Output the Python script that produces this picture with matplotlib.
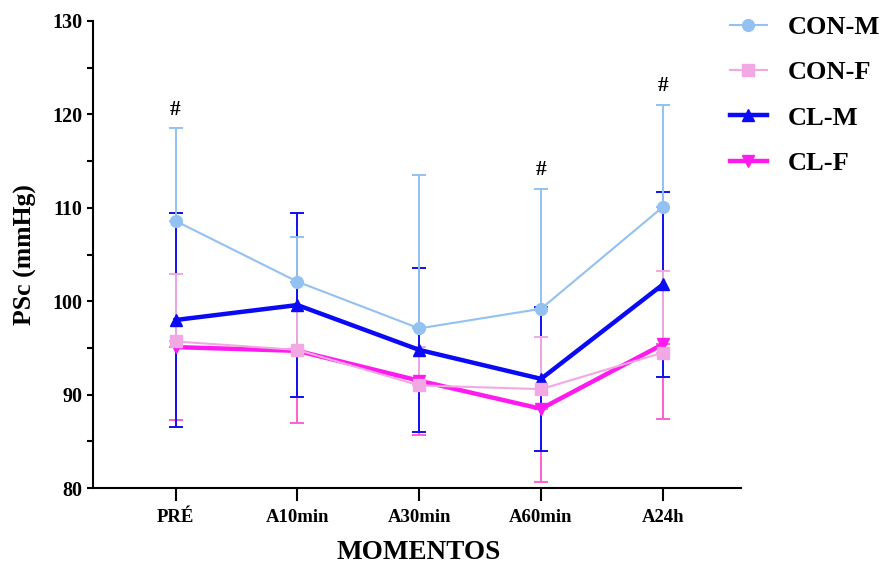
import matplotlib
matplotlib.use('Agg')
import matplotlib.pyplot as plt
import numpy as np

# PSc across moments, mean and SD per group
momentos = ['PRÉ', 'A10min', 'A30min', 'A60min', 'A24h']

con_m = [108.6, 102.1, 97.1, 99.2, 110.1]
con_m_sd = [9.9, 4.8, 16.4, 12.8, 10.9]

con_f = [95.7, 94.8, 91.0, 90.6, 94.5]
con_f_sd = [7.2, 4.6, 4.1, 5.6, 8.7]

cl_m = [98.0, 99.6, 94.8, 91.7, 101.8]
cl_m_sd = [11.4, 9.8, 8.8, 7.7, 9.9]

cl_f = [95.1, 94.7, 91.5, 88.5, 95.4]
cl_f_sd = [7.8, 7.7, 5.8, 7.8, 8.0]

# groups marked with # (CON-M above upper bar)
hash_idx = [0, 3, 4]

plt.rcParams['font.family'] = ['Liberation Serif', 'DejaVu Serif']
plt.rcParams['font.weight'] = 'bold'

fig = plt.figure(figsize=(8.83, 5.67), dpi=100)
ax = fig.add_axes([0.105, 0.139, 0.734, 0.824])

x = np.arange(len(momentos))
zeros = np.zeros(len(x))

# error bars: CON groups upward only, CL-M both ways, CL-F downward only
series = [
    ('CL-F', cl_f, [cl_f_sd, zeros], '#FF1AF0', '#FF5FD2', 'v', 3.2, 1),
    ('CL-M', cl_m, [cl_m_sd, cl_m_sd], '#0A0AF5', '#1010F0', '^', 3.2, 2),
    ('CON-F', con_f, [zeros, con_f_sd], '#F2A8E2', '#F2A8E2', 's', 1.5, 3),
    ('CON-M', con_m, [zeros, con_m_sd], '#92C1F2', '#92C1F2', 'o', 1.5, 4),
]

handles = {}
for name, vals, err, col, ecol, mk, lw, z in series:
    ax.errorbar(x, vals, yerr=err, fmt='none', ecolor=ecol, elinewidth=1.4,
                capsize=5, capthick=1.4, zorder=z)
for name, vals, err, col, ecol, mk, lw, z in series:
    ln, = ax.plot(x, vals, color=col, lw=lw, marker=mk, markersize=8.5,
                  markeredgecolor=col, zorder=z + 5, label=name)
    handles[name] = ln

for i in hash_idx:
    ax.text(x[i], con_m[i] + con_m_sd[i] + 2.0, '#', ha='center', va='center',
            fontsize=15.5, fontweight='bold')

ax.set_ylim(80, 130)
ax.set_xlim(-0.68, 4.64)
ax.set_yticks([80, 90, 100, 110, 120, 130])
ax.set_yticks([85, 95, 105, 115, 125], minor=True)
ax.set_xticks(x)
ax.set_xticklabels(momentos)
ax.tick_params(axis='y', which='major', length=4.5, width=1.5, labelsize=14.5, pad=3)
ax.tick_params(axis='y', which='minor', length=4.5, width=1.5)
ax.tick_params(axis='x', length=9, width=1.5, labelsize=13.5, pad=6)
for lab in ax.get_xticklabels() + ax.get_yticklabels():
    lab.set_fontweight('bold')

ax.spines['top'].set_visible(False)
ax.spines['right'].set_visible(False)
ax.spines['left'].set_linewidth(1.5)
ax.spines['bottom'].set_linewidth(1.5)

ax.set_ylabel('PSc (mmHg)', fontsize=18.5, fontweight='bold')
ax.yaxis.set_label_coords(-0.104, 0.5)
ax.yaxis.label.set_va('center')
ax.set_xlabel('MOMENTOS', fontsize=19.5, fontweight='bold')
ax.xaxis.set_label_coords(0.503, -0.138)
ax.xaxis.label.set_va('center')

order = ['CON-M', 'CON-F', 'CL-M', 'CL-F']
fig.legend([handles[k] for k in order], order, loc='upper left',
           bbox_to_anchor=(0.8267, 0.973), frameon=False,
           prop={'size': 19, 'weight': 'bold'}, handlelength=1.4,
           handletextpad=0.8, labelspacing=0.83, borderpad=0,
           borderaxespad=0)

fig.savefig('out.png', dpi=100)
